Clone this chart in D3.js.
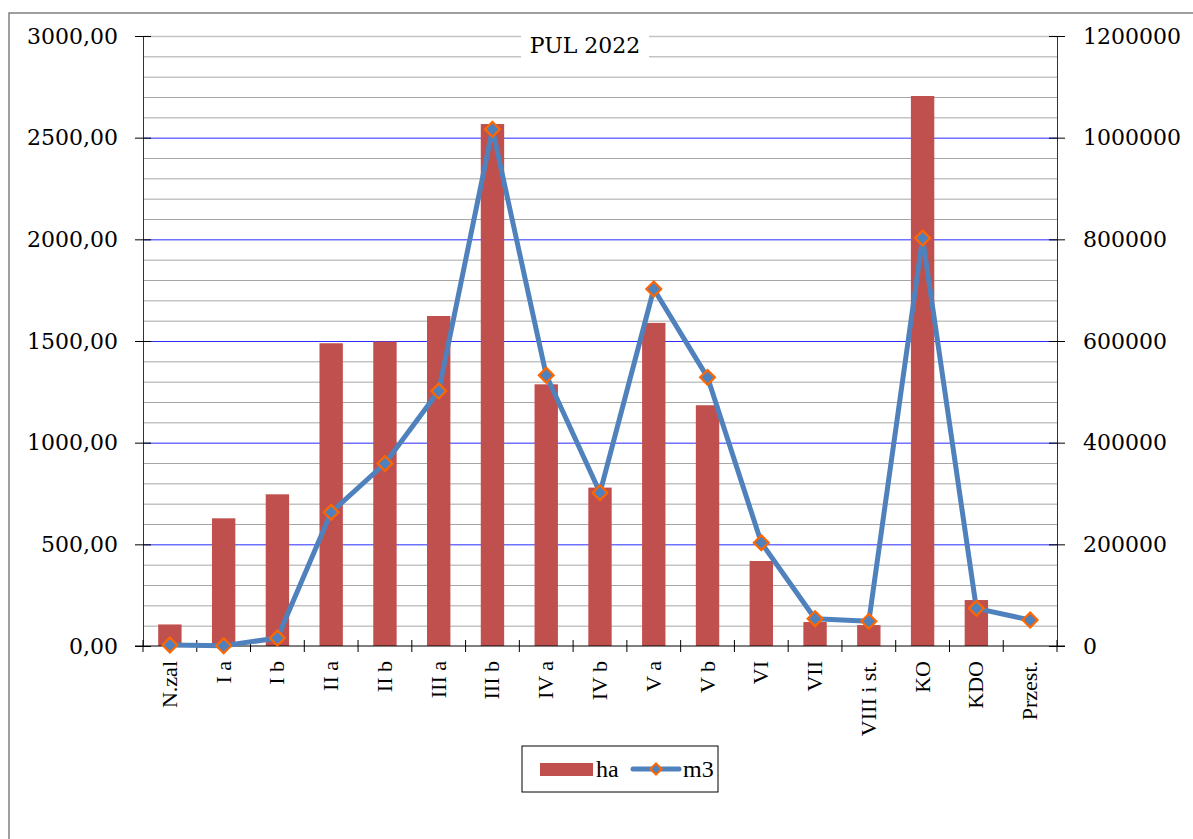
<!DOCTYPE html>
<html>
<head>
<meta charset="utf-8">
<script src="https://cdn.jsdelivr.net/npm/d3@7"></script>
<style>
  body { margin: 0; background: #fff; }
  svg { display: block; }
</style>
</head>
<body>
<div id="chart"></div>
<script>
/* PUL 2022 - bars (ha) on left axis, line (m3) on right axis */

const categories = ["N.zal", "I a", "I b", "II a", "II b", "III a", "III b", "IV a", "IV b",
                    "V a", "V b", "VI", "VII", "VIII i st.", "KO", "KDO", "Przest."];
const haValues = [106, 628, 746, 1489, 1497, 1623, 2567, 1287, 779,
                  1589, 1184, 418, 118, 103, 2705, 226, 0];
const m3Values = [2000, 500, 15700, 263000, 359000, 501600, 1016400, 532500, 301600,
                  702300, 528500, 203200, 53700, 48500, 802600, 74100, 51100];
const leftTicks = [0, 500, 1000, 1500, 2000, 2500, 3000];
const rightTicks = [0, 200000, 400000, 600000, 800000, 1000000, 1200000];

const width = 1193, height = 839;
const margin = { top: 36, right: 136, bottom: 193, left: 143 };

const svg = d3.select("#chart")
    .append("svg")
    .attr("width", width)
    .attr("height", height);

// outer chart frame (cut off at right and bottom)
svg.append("path")
    .attr("d", `M9,${height + 5} V13 H${width + 5}`)
    .attr("fill", "none")
    .attr("stroke", "#808080")
    .attr("stroke-width", 1.5);

const x = d3.scaleBand()
    .domain(categories)
    .range([margin.left, width - margin.right])
    .paddingInner(0)
    .paddingOuter(0);

const y = d3.scaleLinear()
    .domain([0, 3000])
    .range([height - margin.bottom, margin.top]);

const y2 = d3.scaleLinear()
    .domain([0, 1200000])
    .range([height - margin.bottom, margin.top]);

// gridlines: minor every 100, major every 500
const minor = d3.range(100, 3000, 100).filter(v => v % 500 !== 0);
svg.append("g")
    .selectAll("line")
    .data(minor)
    .join("line")
    .attr("x1", margin.left)
    .attr("x2", width - margin.right)
    .attr("y1", d => y(d) + 0.5)
    .attr("y2", d => y(d) + 0.5)
    .attr("stroke", "#a6a6a6")
    .attr("stroke-width", 1);

svg.append("g")
    .selectAll("line")
    .data(leftTicks.filter(v => v > 0 && v < 3000))
    .join("line")
    .attr("x1", margin.left)
    .attr("x2", width - margin.right)
    .attr("y1", d => y(d) + 0.5)
    .attr("y2", d => y(d) + 0.5)
    .attr("stroke", "#2a2aff")
    .attr("stroke-width", 1);

svg.append("line")
    .attr("x1", margin.left)
    .attr("x2", width - margin.right)
    .attr("y1", y(3000) + 0.5)
    .attr("y2", y(3000) + 0.5)
    .attr("stroke", "#c4c4c4")
    .attr("stroke-width", 1.5);

// bars
const barW = x.bandwidth() / 2.3;
svg.append("g")
    .selectAll("rect")
    .data(categories.map((c, i) => ({ c, v: haValues[i] })))
    .join("rect")
    .attr("x", d => x(d.c) + (x.bandwidth() - barW) / 2)
    .attr("width", barW)
    .attr("y", d => y(d.v))
    .attr("height", d => y(0) - y(d.v))
    .attr("fill", "#c0504d");

// title with white box
const title = svg.append("g");
title.append("rect")
    .attr("x", 521).attr("y", 26).attr("width", 128).attr("height", 36)
    .attr("fill", "#fff");
title.append("text")
    .attr("x", 585).attr("y", 53)
    .attr("text-anchor", "middle")
    .style("font-family", "DejaVu Serif")
    .style("font-size", "22px")
    .style("fill", "#000")
    .text("PUL 2022");

// axes
const axisFont = "DejaVu Serif";
const yAxis = svg.append("g")
    .attr("transform", `translate(${margin.left},0)`)
    .call(d3.axisLeft(y).tickValues(leftTicks)
        .tickFormat(d => d3.format(".2f")(d).replace(".", ","))
        .tickSizeInner(8).tickSizeOuter(0).tickPadding(17));
yAxis.selectAll(".tick line").attr("x2", 8).attr("x1", -8).attr("stroke", "#000");
yAxis.select(".domain").attr("stroke", "#333");
yAxis.selectAll("text").style("font-family", axisFont).style("font-size", "22px").attr("fill", "#000");

const y2Axis = svg.append("g")
    .attr("transform", `translate(${width - margin.right},0)`)
    .call(d3.axisRight(y2).tickValues(rightTicks)
        .tickFormat(d3.format("d"))
        .tickSizeInner(8).tickSizeOuter(0).tickPadding(18));
y2Axis.selectAll(".tick line").attr("x1", -8).attr("x2", 8).attr("stroke", "#000");
y2Axis.select(".domain").attr("stroke", "#333");
y2Axis.selectAll("text").style("font-family", axisFont).style("font-size", "22px").attr("fill", "#000");

// x axis: line, boundary ticks, rotated labels
const base = y(0);
svg.append("line")
    .attr("x1", margin.left - 8).attr("x2", width - margin.right + 8)
    .attr("y1", base).attr("y2", base)
    .attr("stroke", "#000");
const bounds = categories.map(c => x(c)).concat([x(categories[categories.length - 1]) + x.bandwidth()]);
svg.append("g")
    .selectAll("line")
    .data(bounds)
    .join("line")
    .attr("x1", d => d).attr("x2", d => d)
    .attr("y1", base - 6).attr("y2", base + 6)
    .attr("stroke", "#000");

svg.append("g")
    .selectAll("text")
    .data(categories)
    .join("text")
    .attr("transform", d => `translate(${x(d) + x.bandwidth() / 2 + 7},${base + 15}) rotate(-90)`)
    .attr("text-anchor", "end")
    .style("font-family", "Liberation Serif")
    .style("font-size", "22px")
    .style("fill", "#000")
    .text(d => d);

// line series
const pts = categories.map((c, i) => ({ c, v: m3Values[i] }));
svg.append("path")
    .datum(pts)
    .attr("fill", "none")
    .attr("stroke", "#4f81bd")
    .attr("stroke-width", 5)
    .attr("stroke-linejoin", "round")
    .attr("d", d3.line().x(d => x(d.c) + x.bandwidth() / 2).y(d => y2(d.v)));

const diamond = d3.symbol().type(d3.symbolDiamond2).size(140);
svg.append("g")
    .selectAll("path")
    .data(pts)
    .join("path")
    .attr("transform", d => `translate(${x(d.c) + x.bandwidth() / 2},${y2(d.v)})`)
    .attr("d", diamond)
    .attr("fill", "#4f81bd")
    .attr("stroke", "#ff6600")
    .attr("stroke-width", 2.2);

// legend
const legend = svg.append("g");
legend.append("rect")
    .attr("x", 522).attr("y", 746).attr("width", 196).attr("height", 46)
    .attr("fill", "#fff").attr("stroke", "#000").attr("stroke-width", 1);
legend.append("rect")
    .attr("x", 540).attr("y", 763).attr("width", 53).attr("height", 13)
    .attr("fill", "#c0504d");
legend.append("text")
    .attr("x", 596).attr("y", 777)
    .style("font-family", "Liberation Serif").style("font-size", "24px")
    .text("ha");
legend.append("line")
    .attr("x1", 633).attr("x2", 679).attr("y1", 769).attr("y2", 769)
    .attr("stroke", "#4f81bd").attr("stroke-width", 5).attr("stroke-linecap", "round");
legend.append("path")
    .attr("transform", "translate(656,769)")
    .attr("d", d3.symbol().type(d3.symbolDiamond2).size(80))
    .attr("fill", "#4f81bd").attr("stroke", "#ff6600").attr("stroke-width", 2);
legend.append("text")
    .attr("x", 683).attr("y", 777)
    .style("font-family", "Liberation Serif").style("font-size", "24px")
    .text("m3");
</script>
</body>
</html>
